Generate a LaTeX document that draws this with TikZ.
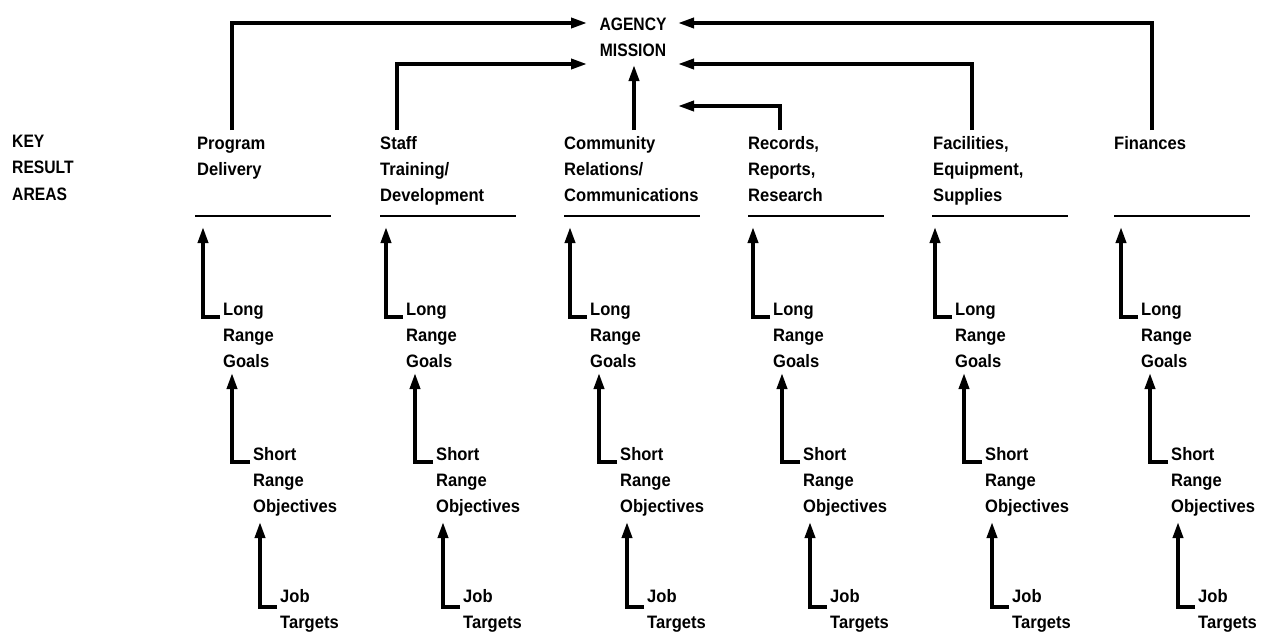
\documentclass[tikz,border=0pt]{standalone}
\usepackage{fontspec}
\setmainfont{Liberation Sans}[UprightFont=*-Bold, FakeStretch=0.92]
\newfontfamily\capsfont{Liberation Sans}[UprightFont=*-Bold, FakeStretch=0.87]
\usetikzlibrary{arrows.meta}
\begin{document}
\begin{tikzpicture}[x=1pt,y=-1pt,
  lbl/.style={font=\fontsize{18}{26}\selectfont, inner sep=0pt, align=left, anchor=base west},
  capslbl/.style={font=\capsfont\fontsize{18}{26.5}\selectfont, inner sep=0pt},
  arr/.style={line width=3.6pt, -{Triangle[length=16pt,width=10pt]}, line join=miter},
  rulel/.style={line width=2pt}]
\useasboundingbox (0,0) rectangle (1268,632);

% title and side label (anchor "base" is the baseline of the last line)
\node[capslbl, align=center, anchor=base] (mission) at (633,56.5) {AGENCY\\MISSION};
\node[capslbl, align=left, anchor=base west] (kra) at (12,200) {KEY\\RESULT\\AREAS};

% key result area headers
\node[lbl] (h1) at (197,175) {Program\\Delivery};
\node[lbl] (h2) at (380,201) {Staff\\Training/\\Development};
\node[lbl] (h3) at (564,201) {Community\\Relations/\\Communications};
\node[lbl] (h4) at (748,201) {Records,\\Reports,\\Research};
\node[lbl] (h5) at (933,201) {Facilities,\\Equipment,\\Supplies};
\node[lbl] (h6) at (1114,149) {Finances};

% connectors to the mission
\coordinate (s1) at (232,130);  \coordinate (m1) at (587,23);
\coordinate (s2) at (397,130);  \coordinate (m2) at (587,64);
\coordinate (s3) at (634,130);  \coordinate (m3) at (634,65);
\coordinate (s4) at (780,130);  \coordinate (m4) at (678,106);
\coordinate (s5) at (972,130);  \coordinate (m5) at (678,64);
\coordinate (s6) at (1152,130); \coordinate (m6) at (678,23);
\draw[arr] (s1) |- (m1);
\draw[arr] (s2) |- (m2);
\draw[arr] (s3) -- (m3);
\draw[arr] (s4) |- (m4);
\draw[arr] (s5) |- (m5);
\draw[arr] (s6) |- (m6);

% columns
\foreach \a/\r/\i in {203/195/1,386/380/2,570/564/3,753/748/4,935/932/5,1121/1114/6}{
  \coordinate (rl\i) at (\r,216);
  \draw[rulel] (rl\i) -- ++(136,0);
  \node[lbl] (lg\i) at ({\a+20},367) {Long\\Range\\Goals};
  \node[lbl] (sr\i) at ({\a+50},512) {Short\\Range\\Objectives};
  \node[lbl] (jt\i) at ({\a+77},628) {Job\\Targets};
  \coordinate (lgf\i) at ({\a+17},317);
  \coordinate (lgt\i) at (\a,227);
  \coordinate (srf\i) at ({\a+47},462);
  \coordinate (srt\i) at ({\a+29},373);
  \coordinate (jtf\i) at ({\a+74},607);
  \coordinate (jtt\i) at ({\a+57},522);
  \draw[arr] (lgf\i) -| (lgt\i);
  \draw[arr] (srf\i) -| (srt\i);
  \draw[arr] (jtf\i) -| (jtt\i);
}
\end{tikzpicture}
\end{document}
